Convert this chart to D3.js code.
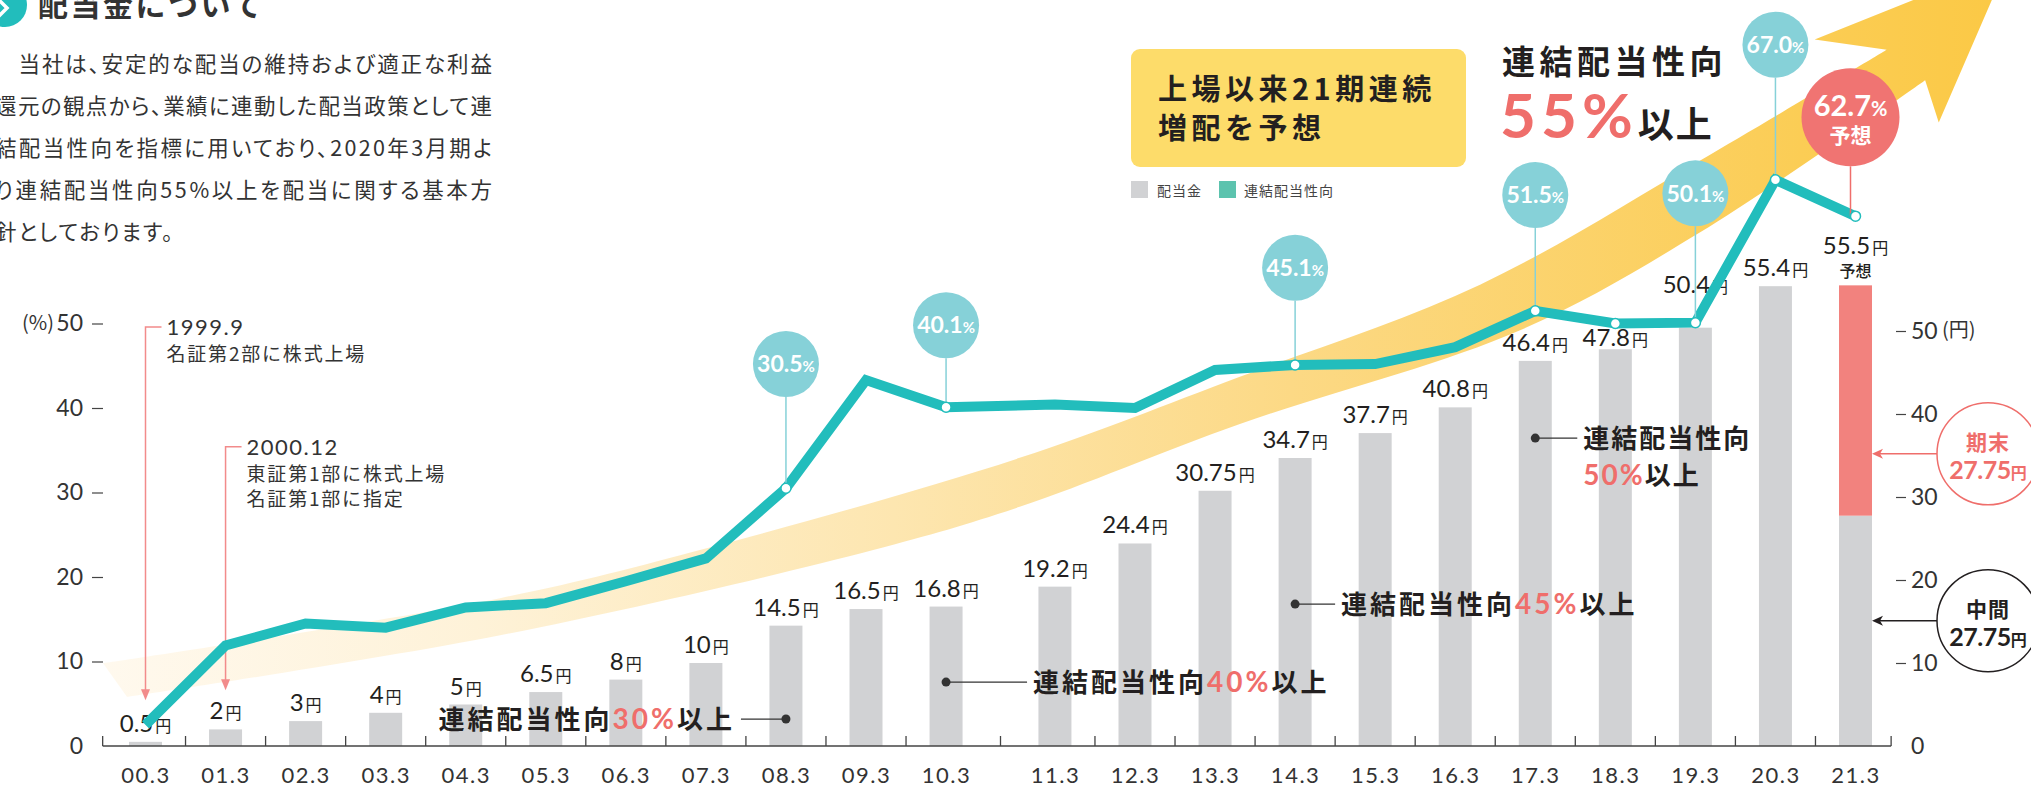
<!DOCTYPE html>
<html lang="ja">
<head>
<meta charset="utf-8">
<title>配当金について</title>
<script src="https://cdn.jsdelivr.net/npm/d3@7"></script>
<style>
  body { margin: 0; background: #fff; }
  svg { display: block; }
  text { font-family: Lato, "Noto Sans CJK JP", sans-serif; fill: #262626; }
  .jp { font-family: "Noto Sans CJK JP", sans-serif; }
  .intro { font-feature-settings: "palt"; }
</style>
</head>
<body>
<div id="chart"></div>
<script>
// fiscal years ending in March
let years = ['00.3','01.3','02.3','03.3','04.3','05.3','06.3','07.3','08.3','09.3','10.3',
             '11.3','12.3','13.3','14.3','15.3','16.3','17.3','18.3','19.3','20.3','21.3']
// annual dividend per share (yen)
let dividend = [0.5, 2, 3, 4, 5, 6.5, 8, 10, 14.5, 16.5, 16.8,
                19.2, 24.4, 30.75, 34.7, 37.7, 40.8, 46.4, 47.8, 50.4, 55.4, 55.5]
let dividendText = ['0.5','2','3','4','5','6.5','8','10','14.5','16.5','16.8',
                    '19.2','24.4','30.75','34.7','37.7','40.8','46.4','47.8','50.4','55.4','55.5']
// consolidated payout ratio (%)
let payout = [2.5, 11.9, 14.5, 14.0, 16.4, 16.9, 19.5, 22.2, 30.5, 43.3, 40.1,
              40.4, 40.0, 44.5, 45.1, 45.2, 47.2, 51.5, 50.0, 50.1, 67.0, 62.7]
// 21.3 forecast split
let interim21 = 27.75
let yearEnd21 = 27.75

let pctTicks = [0, 10, 20, 30, 40, 50]
let yenTicks = [0, 10, 20, 30, 40, 50]

let bubbleYears = ['08.3','10.3','14.3','17.3','19.3','20.3']
let bubbleRatios = ['30.5','40.1','45.1','51.5','50.1','67.0']
let forecastRatio = '62.7'
let dotYears = ['08.3','10.3','14.3','17.3','18.3','19.3','20.3','21.3']

let policyYears = ['08.3','10.3','14.3','17.3']
let policyRates = ['30','40','45','50']

let listingYears = ['00.3','01.3']
let listingDates = ['1999.9','2000.12']
let listingText = [['名証第2部に株式上場'], ['東証第1部に株式上場','名証第1部に指定']]

let introLines = [
  '\u3000当社は、安定的な配当の維持および適正な利益',
  '還元の観点から、業績に連動した配当政策として連',
  '結配当性向を指標に用いており、2020年3月期よ',
  'り連結配当性向55%以上を配当に関する基本方',
  '針としております。'
]

// ---- layout ----
let W = 2031, H = 787
let base = 746
let gap = 0.36   // extra room between 10.3 and 11.3
let slot = i => i + (i >= 11 ? gap : 0)
let barW = 33

let x = d3.scaleLinear().domain([0, 21 + gap]).range([145.5, 1855.5])
let yPct = d3.scaleLinear().domain([0, 50]).range([base, base - 422.5])
let yYen = d3.scaleLinear().domain([0, 50]).range([base, base - 415])
let xOf = yr => x(slot(years.indexOf(yr)))

let colors = {
  bar: '#D1D2D4', barEnd: '#F2827E', line: '#22BDBC', bubble: '#86D1D8',
  red: '#EF6E6B', ink: '#231F20', box: '#FDDC6A', legendLine: '#5CC3AE'
}

let svg = d3.select('#chart').append('svg').attr('width', W).attr('height', H)
let defs = svg.append('defs')

// ---- big rising arrow (decoration) ----
let grad = defs.append('linearGradient').attr('id', 'arrowGrad')
  .attr('gradientUnits', 'userSpaceOnUse')
  .attr('x1', 100).attr('y1', 0).attr('x2', 1990).attr('y2', 0)
grad.selectAll('stop')
  .data([[0, '#FFF9EE'], [0.2, '#FEF2D8'], [0.42, '#FDE6B0'], [0.63, '#FCD985'], [0.9, '#FBCD55'], [1, '#FBC946']])
  .enter().append('stop')
  .attr('offset', d => d[0]).attr('stop-color', d => d[1])

// edges in (slot, %) units
let arrowUpper = [[-0.53, 9.8], [4.43, 17.5], [7.01, 23.4], [10.92, 34.1], [13.67, 43.7], [16.67, 54.6], [19.42, 69.3], [21.75, 82.4]]
let arrowLower = [[-0.23, 5.8], [4.43, 13.1], [9.09, 23.2], [10.92, 28.3], [13.67, 38.1], [17.17, 49.2], [19.42, 60.8], [22.23, 78.8]]
let arrowHead = [[20.85, 83.6], [23.27, 92.8], [22.4, 73.8]]
let edge = d3.line().x(d => x(d[0])).y(d => yPct(d[1])).curve(d3.curveCatmullRom)
let arrowPath = edge(arrowUpper)
  + arrowHead.map(p => 'L' + x(p[0]) + ',' + yPct(p[1])).join('')
  + edge(arrowLower.slice().reverse()).replace(/^M/, 'L') + 'Z'
svg.append('path').attr('d', arrowPath).attr('fill', 'url(#arrowGrad)')

// ---- title + intro ----
svg.append('circle').attr('cx', 5).attr('cy', 5).attr('r', 22).attr('fill', colors.line)
svg.append('path').attr('d', 'M-2,-1 L7,8 L-2,17').attr('fill', 'none')
  .attr('stroke', '#fff').attr('stroke-width', 3.5)
svg.append('text').attr('class', 'jp').attr('x', 38).attr('y', 16)
  .style('font-size', '30px').style('font-weight', 700).style('letter-spacing', '2.5px')
  .style('fill', '#333').text('配当金について')

introLines.forEach((t, k) => {
  let tx = svg.append('text').attr('class', 'jp intro')
    .attr('x', -5).attr('y', 62 + k * 42.1)
    .attr('dominant-baseline', 'central')
    .style('font-size', '21.5px').style('fill', '#333').text(t)
  if (k < introLines.length - 1) tx.attr('textLength', 497).attr('lengthAdjust', 'spacing')
  else tx.style('letter-spacing', '1.8px')
})

// ---- bars ----
let bars = svg.append('g')
bars.selectAll('rect.div')
  .data(dividend.map((v, i) => ({ v, i })).filter(d => years[d.i] !== '21.3'))
  .enter().append('rect').attr('class', 'div')
  .attr('x', d => x(slot(d.i)) - barW / 2)
  .attr('width', barW)
  .attr('y', d => yYen(d.v))
  .attr('height', d => base - yYen(d.v))
  .attr('fill', colors.bar)

let i21 = years.indexOf('21.3')
bars.append('rect').attr('x', x(slot(i21)) - barW / 2).attr('width', barW)
  .attr('y', yYen(interim21)).attr('height', base - yYen(interim21)).attr('fill', colors.bar)
bars.append('rect').attr('x', x(slot(i21)) - barW / 2).attr('width', barW)
  .attr('y', yYen(interim21 + yearEnd21)).attr('height', yYen(interim21) - yYen(interim21 + yearEnd21))
  .attr('fill', colors.barEnd)

// ---- x axis ----
let bounds = [x(-0.535)]
  .concat(d3.range(21).map(i => (x(slot(i)) + x(slot(i + 1))) / 2))
  .concat([x(21 + gap + 0.445)])
let xAxisG = svg.append('g')
xAxisG.append('line').attr('x1', bounds[0]).attr('x2', bounds[bounds.length - 1])
  .attr('y1', base).attr('y2', base).attr('stroke', '#444').attr('stroke-width', 1.5)
xAxisG.selectAll('line.tk').data(bounds).enter().append('line').attr('class', 'tk')
  .attr('x1', d => d).attr('x2', d => d).attr('y1', base).attr('y2', base - 10)
  .attr('stroke', '#444').attr('stroke-width', 1.3)

let xCat = d3.scaleOrdinal().domain(years).range(years.map((d, i) => x(slot(i))))
let xAxis = svg.append('g').attr('transform', `translate(0,${base})`)
  .call(d3.axisBottom(xCat).tickValues(years).tickSize(0).tickPadding(21))
xAxis.select('.domain').remove()
xAxis.selectAll('text').style('font-size', '22px').style('letter-spacing', '1.5px')
  .style('fill', '#333').style('font-family', 'Lato, sans-serif')

// ---- left axis (%) ----
let leftAxis = svg.append('g').attr('transform', 'translate(103,0)')
  .call(d3.axisLeft(yPct).tickValues(pctTicks).tickSize(11).tickPadding(9))
leftAxis.select('.domain').remove()
leftAxis.selectAll('.tick line').attr('stroke', '#444').attr('stroke-width', 1.2)
  .filter(d => d === 0).remove()
leftAxis.selectAll('text').style('font-size', '23px').style('fill', '#333')
  .style('font-family', 'Lato, sans-serif')
svg.append('text').attr('x', 54).attr('y', yPct(50)).attr('dy', '0.32em')
  .attr('text-anchor', 'end').attr('class', 'jp')
  .style('font-size', '20px').style('fill', '#333').text('(%)')

// ---- right axis (yen) ----
let rightAxis = svg.append('g').attr('transform', 'translate(1896,0)')
  .call(d3.axisRight(yYen).tickValues(yenTicks).tickSize(10).tickPadding(5))
rightAxis.select('.domain').remove()
rightAxis.selectAll('.tick line').attr('stroke', '#444').attr('stroke-width', 1.2)
  .filter(d => d === 0).remove()
rightAxis.selectAll('text').style('font-size', '23px').style('fill', '#333')
  .style('font-family', 'Lato, sans-serif')
svg.append('text').attr('x', 1942).attr('y', yYen(50)).attr('dy', '0.32em')
  .attr('class', 'jp').style('font-size', '20px').style('fill', '#333').text('(円)')

// ---- dividend labels ----
let labelG = svg.append('g')
dividend.forEach((v, i) => {
  let cx = x(slot(i))
  let by = yYen(v) - 10
  if (years[i] === '18.3') by = yYen(v) - 3
  if (years[i] === '19.3') by = yPct(payout[i]) - 30
  if (years[i] === '21.3') by = yYen(v) - 31
  let t = labelG.append('text').attr('x', cx).attr('y', by).attr('text-anchor', 'middle')
  t.append('tspan').style('font-size', '24px').style('fill', colors.ink).text(dividendText[i])
  t.append('tspan').attr('class', 'jp').attr('dx', 2).style('font-size', '16px')
    .style('fill', colors.ink).text('円')
  if (years[i] === '21.3') {
    labelG.append('text').attr('class', 'jp').attr('x', cx).attr('y', yYen(v) - 8)
      .attr('text-anchor', 'middle').style('font-size', '16px').style('font-weight', 500)
      .style('fill', colors.ink).text('予想')
  }
})

// ---- listing annotations ----
let listingTop = [49.6, 35.4], listingTip = [5.4, 6.6]
listingYears.forEach((yr, k) => {
  let ax = xOf(yr)
  let y0 = yPct(listingTop[k]), y1 = yPct(listingTip[k])
  svg.append('path').attr('d', `M${ax + 16},${y0}H${ax}V${y1 - 9}`)
    .attr('fill', 'none').attr('stroke', '#F28B8B').attr('stroke-width', 1.5)
  svg.append('path').attr('d', `M${ax - 4.5},${y1 - 11}L${ax + 4.5},${y1 - 11}L${ax},${y1}Z`)
    .attr('fill', '#F28B8B')
  svg.append('text').attr('x', ax + 21).attr('y', y0).attr('dy', '0.36em')
    .style('font-size', '22px').style('letter-spacing', '1.5px').style('fill', '#333')
    .text(listingDates[k])
  listingText[k].forEach((line, j) => {
    svg.append('text').attr('class', 'jp').attr('x', ax + 21).attr('y', y0 + 25.5 * (j + 1))
      .attr('dominant-baseline', 'central')
      .style('font-size', '19px').style('letter-spacing', '1.8px').style('fill', '#333')
      .text(line)
  })
})

// ---- payout policy notes ----
let policyLevels = [3.25, 7.7, 17.1, 37.1]     // yen level on the bar where the leader starts
let policyLayout = [{ side: -1, len: 45 }, { side: 1, len: 81 }, { side: 1, len: 40 }, { side: 1, len: 42, wrap: true }]
function notePart(t, str, kind) {
  let s = t.append('tspan').text(str)
  if (kind === 'jp') s.attr('class', 'jp').style('font-size', '26px').style('font-weight', 700).style('fill', colors.ink)
  else s.style('font-size', '28px').style('font-weight', 700).style('fill', colors.red)
  return s
}
policyYears.forEach((yr, k) => {
  let dx = xOf(yr), dy = yYen(policyLevels[k])
  let L = policyLayout[k]
  let ex = dx + L.side * L.len
  svg.append('line').attr('x1', dx).attr('x2', ex).attr('y1', dy).attr('y2', dy)
    .attr('stroke', '#333').attr('stroke-width', 1.2)
  svg.append('circle').attr('cx', dx).attr('cy', dy).attr('r', 4.5).attr('fill', '#333')
  let tx = ex + L.side * 6
  if (L.wrap) {
    let t1 = svg.append('text').attr('x', tx).attr('y', dy + 10).style('letter-spacing', '2px')
    notePart(t1, '連結配当性向', 'jp')
    let t2 = svg.append('text').attr('x', tx).attr('y', dy + 47).style('letter-spacing', '2px')
    notePart(t2, policyRates[k] + '%', 'num')
    notePart(t2, '以上', 'jp')
  } else {
    let t = svg.append('text').attr('x', tx).attr('y', dy + 10)
      .attr('text-anchor', L.side < 0 ? 'end' : 'start').style('letter-spacing', '3px')
    notePart(t, '連結配当性向', 'jp')
    notePart(t, policyRates[k] + '%', 'num')
    notePart(t, '以上', 'jp')
  }
})

// ---- payout ratio line ----
let lineGen = d3.line().x((d, i) => x(slot(i))).y(d => yPct(d))
svg.append('path').datum(payout).attr('d', lineGen)
  .attr('fill', 'none').attr('stroke', colors.line).attr('stroke-width', 10)
  .attr('stroke-linejoin', 'miter')

// ---- ratio bubbles ----
let bubbleLevel = [45.2, 49.8, 56.6, 65.2, 65.4, 83.0]
let bubbleR = 33
bubbleYears.forEach((yr, k) => {
  let i = years.indexOf(yr)
  let cx = x(slot(i)), cy = yPct(bubbleLevel[k]), py = yPct(payout[i])
  svg.append('line').attr('x1', cx).attr('x2', cx).attr('y1', cy + bubbleR).attr('y2', py)
    .attr('stroke', colors.bubble).attr('stroke-width', 1.5)
  svg.append('circle').attr('cx', cx).attr('cy', cy).attr('r', bubbleR).attr('fill', colors.bubble)
  let t = svg.append('text').attr('x', cx).attr('y', cy + 8.3).attr('text-anchor', 'middle')
  t.append('tspan').style('font-size', '23px').style('font-weight', 700).style('fill', '#fff').text(bubbleRatios[k])
  t.append('tspan').style('font-size', '15px').style('font-weight', 700).style('fill', '#fff').text('%')
})
// forecast bubble
{
  let cx = x(slot(i21)) - 5, cy = yPct(74.4), r = 49
  svg.append('line').attr('x1', cx).attr('x2', cx).attr('y1', cy + r).attr('y2', yPct(payout[i21]))
    .attr('stroke', colors.red).attr('stroke-width', 1.5)
  svg.append('circle').attr('cx', cx).attr('cy', cy).attr('r', r).attr('fill', '#F07472')
  let t = svg.append('text').attr('x', cx).attr('y', cy - 1).attr('text-anchor', 'middle')
  t.append('tspan').style('font-size', '29px').style('font-weight', 700).style('fill', '#fff').text(forecastRatio)
  t.append('tspan').style('font-size', '20px').style('font-weight', 700).style('fill', '#fff').text('%')
  svg.append('text').attr('class', 'jp').attr('x', cx).attr('y', cy + 26)
    .attr('text-anchor', 'middle').style('font-size', '21px').style('font-weight', 700)
    .style('fill', '#fff').text('予想')
}
svg.selectAll('circle.dot').data(dotYears).enter().append('circle').attr('class', 'dot')
  .attr('cx', d => xOf(d)).attr('cy', d => yPct(payout[years.indexOf(d)]))
  .attr('r', 5).attr('fill', '#fff').attr('stroke', colors.line).attr('stroke-width', 1.5)

// ---- interim / year-end callouts ----
let splitLabels = ['期末', '中間']
let splitValues = ['27.75', '27.75']
let splitLevels = [35.2, 15.1]
let splitColors = [colors.red, colors.ink]
splitLabels.forEach((lab, k) => {
  let ay = yYen(splitLevels[k])
  let barRight = x(slot(i21)) + barW / 2
  let cx = barRight + 116, r = 51
  let c = splitColors[k]
  svg.append('circle').attr('cx', cx).attr('cy', ay).attr('r', r)
    .attr('fill', '#fff').attr('stroke', c).attr('stroke-width', 1.5)
  svg.append('line').attr('x1', cx - r).attr('x2', barRight + 4).attr('y1', ay).attr('y2', ay)
    .attr('stroke', c).attr('stroke-width', 1.5)
  svg.append('path').attr('d', `M${barRight},${ay}L${barRight + 11},${ay - 5}L${barRight + 8},${ay}L${barRight + 11},${ay + 5}Z`)
    .attr('fill', c)
  svg.append('text').attr('class', 'jp').attr('x', cx).attr('y', ay - 4)
    .attr('text-anchor', 'middle').style('font-size', '21px').style('font-weight', 700)
    .style('fill', c).style('letter-spacing', '1px').text(lab)
  let t = svg.append('text').attr('x', cx).attr('y', ay + 25).attr('text-anchor', 'middle')
  t.append('tspan').style('font-size', '25px').style('font-weight', 700).style('fill', c)
    .style('letter-spacing', '-0.5px').text(splitValues[k])
  t.append('tspan').attr('class', 'jp').style('font-size', '16px').style('font-weight', 700)
    .style('fill', c).text('円')
})

// ---- headline box ----
svg.append('rect').attr('x', 1131).attr('y', 49).attr('width', 335).attr('height', 118)
  .attr('rx', 9).attr('fill', colors.box)
svg.append('text').attr('class', 'jp').attr('x', 1158).attr('y', 100)
  .style('font-size', '29px').style('font-weight', 700).style('letter-spacing', '4.5px')
  .style('fill', colors.ink).text('上場以来21期連続')
svg.append('text').attr('class', 'jp').attr('x', 1158).attr('y', 139)
  .style('font-size', '29px').style('font-weight', 700).style('letter-spacing', '4.5px')
  .style('fill', colors.ink).text('増配を予想')

// legend
let legendItems = [['配当金', colors.bar, 1131, 1157], ['連結配当性向', colors.legendLine, 1219, 1244]]
legendItems.forEach(d => {
  svg.append('rect').attr('x', d[2]).attr('y', 181).attr('width', 17).attr('height', 17).attr('fill', d[1])
  svg.append('text').attr('class', 'jp').attr('x', d[3]).attr('y', 189.5).attr('dominant-baseline', 'central')
    .style('font-size', '14px').style('letter-spacing', '1px').style('fill', '#444').text(d[0])
})

// payout policy headline
svg.append('text').attr('class', 'jp').attr('x', 1502).attr('y', 74)
  .style('font-size', '33px').style('font-weight', 700).style('letter-spacing', '4.5px')
  .style('fill', colors.ink).text('連結配当性向')
let big = svg.append('text').attr('x', 1500).attr('y', 138)
big.append('tspan').style('font-size', '62px').style('font-weight', 700).style('letter-spacing', '5px')
  .style('fill', colors.red).text('55%')
big.append('tspan').attr('class', 'jp').style('font-size', '36px').style('font-weight', 700)
  .style('letter-spacing', '2px').style('fill', colors.ink).text('以上')
</script>
</body>
</html>
